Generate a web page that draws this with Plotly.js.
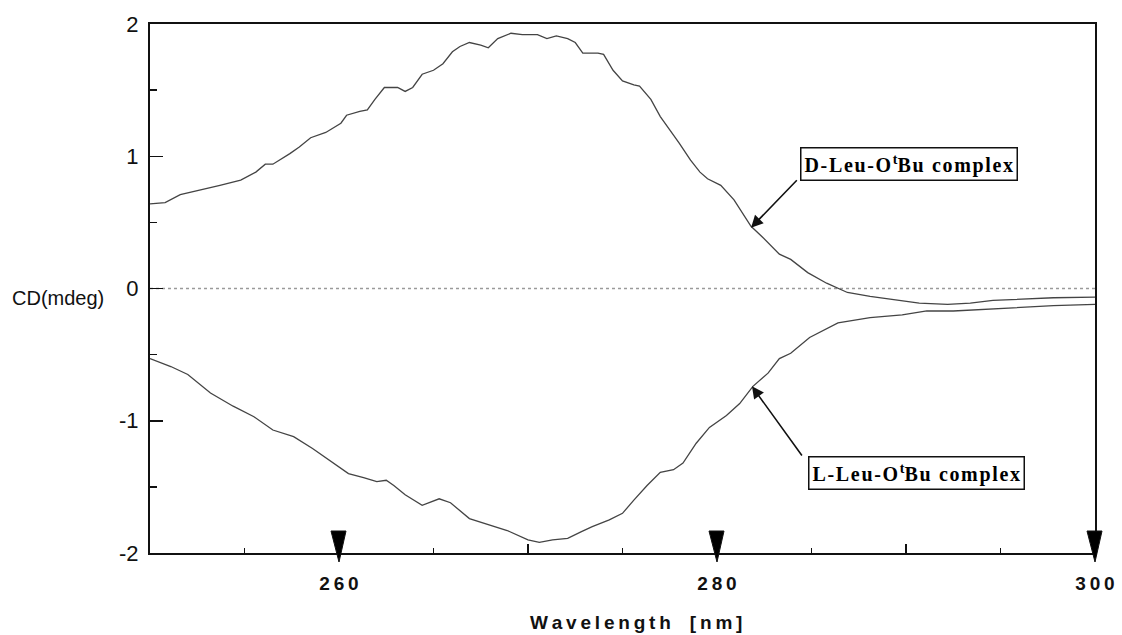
<!DOCTYPE html>
<html>
<head>
<meta charset="utf-8">
<script src="https://cdn.plot.ly/plotly-3.0.1.min.js"></script>
<style>
  html, body { margin: 0; padding: 0; background: #ffffff; }
  #chart { width: 1122px; height: 635px; }
</style>
</head>
<body>
<div id="chart"></div>
<script>
// CD spectra of the two leucine tert-butyl ester complexes
const dWavelength = [250.0, 250.8, 251.6, 252.7, 253.7, 254.8, 255.6, 256.1, 256.5, 257.4, 257.9, 258.5, 259.3, 260.1, 260.4, 261.1, 261.5, 261.9, 262.4, 263.1, 263.5, 263.9, 264.4, 265.0, 265.5, 266.0, 266.4, 266.9, 267.5, 267.9, 268.4, 269.1, 269.7, 270.5, 271.0, 271.5, 272.1, 272.5, 272.9, 273.7, 274.0, 274.5, 275.0, 275.6, 275.9, 276.5, 277.0, 277.5, 278.0, 278.6, 279.1, 279.5, 280.2, 280.9, 281.8, 282.4, 283.3, 283.9, 284.8, 285.8, 286.9, 288.1, 289.5, 290.7, 292.2, 293.4, 294.6, 296.0, 297.8, 300.0];
const dCD = [0.64, 0.65, 0.71, 0.745, 0.78, 0.82, 0.88, 0.94, 0.94, 1.02, 1.07, 1.14, 1.18, 1.25, 1.31, 1.34, 1.35, 1.43, 1.52, 1.52, 1.49, 1.52, 1.62, 1.65, 1.70, 1.79, 1.83, 1.86, 1.84, 1.82, 1.89, 1.93, 1.92, 1.92, 1.89, 1.91, 1.89, 1.86, 1.78, 1.78, 1.77, 1.65, 1.57, 1.54, 1.53, 1.43, 1.30, 1.20, 1.10, 0.97, 0.88, 0.83, 0.78, 0.67, 0.47, 0.39, 0.26, 0.22, 0.12, 0.04, -0.03, -0.06, -0.09, -0.11, -0.12, -0.11, -0.09, -0.08, -0.07, -0.065];

const lWavelength = [250.0, 251.1, 252.0, 253.2, 254.4, 255.5, 256.5, 257.6, 258.6, 259.5, 260.5, 261.3, 262.0, 262.5, 262.9, 263.5, 264.4, 265.3, 265.9, 266.9, 268.0, 268.9, 270.0, 270.6, 271.3, 272.1, 272.8, 273.4, 274.3, 275.0, 275.6, 276.3, 277.0, 277.7, 278.2, 278.9, 279.6, 280.5, 281.2, 281.9, 282.7, 283.3, 283.9, 284.9, 286.4, 288.1, 289.8, 291.1, 292.5, 294.3, 296.0, 297.8, 300.0];
const lCD = [-0.53, -0.59, -0.65, -0.79, -0.89, -0.97, -1.07, -1.12, -1.21, -1.30, -1.40, -1.43, -1.46, -1.45, -1.49, -1.56, -1.64, -1.59, -1.62, -1.74, -1.79, -1.83, -1.90, -1.92, -1.90, -1.89, -1.84, -1.80, -1.75, -1.70, -1.60, -1.49, -1.39, -1.37, -1.32, -1.17, -1.05, -0.96, -0.87, -0.74, -0.64, -0.53, -0.49, -0.37, -0.26, -0.22, -0.20, -0.17, -0.17, -0.155, -0.14, -0.13, -0.12];

// axis scale and labels
const xRange = [250, 300];
const yRange = [-2, 2];
const yTickVals = [2, 1, 0, -1, -2];
const yTickText = ['2', '1', '0', '-1', '-2'];
const xTickVals = [260, 270, 280, 290, 300];
const xTickText = ['260', '', '280', '', '300'];
const markerWavelengths = [260, 280, 300];

const spaced = s => s.split('').join('\u2009');
const loose = s => s.split('').join('\u200A');
const xFrac = w => (w - xRange[0]) / (xRange[1] - xRange[0]);
const complexLabel = prefix => loose(prefix + '-Leu-O') + '\u200A<sup>t</sup>' + loose('Bu complex');

const lineStyle = { color: '#444444', width: 1.3 };

const traces = [
  { x: dWavelength, y: dCD, mode: 'lines', line: lineStyle, name: 'D-Leu-OtBu complex', hoverinfo: 'x+y' },
  { x: lWavelength, y: lCD, mode: 'lines', line: lineStyle, name: 'L-Leu-OtBu complex', hoverinfo: 'x+y' }
];

// downward wavelength markers sitting on the bottom axis
const markerShapes = markerWavelengths.map(w => ({
  type: 'path', xref: 'paper', yref: 'paper',
  xsizemode: 'pixel', ysizemode: 'pixel',
  xanchor: xFrac(w), yanchor: 0,
  path: 'M -8,22 L 7,22 L 0,-9 Z',
  fillcolor: '#000000', line: { color: '#111111', width: 1 }
}));

const zeroShape = {
  type: 'line', xref: 'paper', yref: 'y', x0: 0, x1: 1, y0: 0, y1: 0,
  line: { color: '#9a9a9a', width: 1.5, dash: 'dot' }, layer: 'below'
};

const labelFont = { family: 'Liberation Serif, Times New Roman, serif', size: 20, color: '#000', weight: 'bold' };
const sansFont = 'Liberation Sans, Arial, sans-serif';

const layout = {
  width: 1122, height: 635,
  margin: { l: 150, r: 27, t: 24, b: 82 },
  paper_bgcolor: '#ffffff', plot_bgcolor: '#ffffff',
  showlegend: false,
  xaxis: {
    range: xRange, showgrid: false, zeroline: false,
    showline: true, mirror: true, linecolor: '#111', linewidth: 2,
    tickmode: 'array', tickvals: xTickVals, ticktext: xTickText.map(spaced),
    ticks: 'inside', ticklen: 9, tickwidth: 1.5, tickcolor: '#111',
    ticklabelstandoff: 12,
    tickfont: { family: sansFont, size: 19, color: '#111', weight: 'bold' },
    minor: { dtick: 5, ticks: 'inside', ticklen: 5, tickwidth: 1.5, tickcolor: '#111' }
  },
  yaxis: {
    range: yRange, showgrid: false, zeroline: false,
    showline: true, mirror: true, linecolor: '#111', linewidth: 2,
    tickmode: 'array', tickvals: yTickVals, ticktext: yTickText,
    ticks: 'inside', ticklen: 13, tickwidth: 1.5, tickcolor: '#111',
    ticklabelstandoff: 5,
    tickfont: { family: sansFont, size: 22, color: '#111' },
    minor: { dtick: 0.5, ticks: 'inside', ticklen: 7, tickwidth: 1.5, tickcolor: '#111' }
  },
  shapes: [zeroShape].concat(markerShapes),
  annotations: [
    {
      xref: 'paper', yref: 'paper', x: -0.148, y: 0.482, xanchor: 'left', yanchor: 'middle',
      text: 'CD(mdeg)', showarrow: false,
      font: { family: sansFont, size: 20, color: '#111' }
    },
    {
      xref: 'paper', yref: 'paper', x: 0.514, y: -0.131, xanchor: 'center', yanchor: 'middle',
      text: spaced('Wavelength') + '\u2003' + spaced('[nm]'), showarrow: false,
      font: { family: sansFont, size: 19, color: '#111', weight: 'bold' }
    },
    // D complex label and pointer
    {
      xref: 'paper', yref: 'paper', x: 0.803, y: 0.736, xanchor: 'center', yanchor: 'middle',
      text: complexLabel('D'), showarrow: false,
      font: labelFont, bordercolor: '#111', borderwidth: 1.5, borderpad: 3, bgcolor: '#ffffff'
    },
    {
      xref: 'x', yref: 'y', axref: 'x', ayref: 'y',
      x: 281.8, y: 0.46, ax: 284.3, ay: 0.83, text: '',
      showarrow: true, arrowhead: 2, arrowsize: 1.5, arrowwidth: 1.6, arrowcolor: '#111'
    },
    // L complex label and pointer
    {
      xref: 'paper', yref: 'paper', x: 0.8106, y: 0.152, xanchor: 'center', yanchor: 'middle',
      text: complexLabel('L'), showarrow: false,
      font: labelFont, bordercolor: '#111', borderwidth: 1.5, borderpad: 3, bgcolor: '#ffffff'
    },
    {
      xref: 'x', yref: 'y', axref: 'x', ayref: 'y',
      x: 281.85, y: -0.74, ax: 284.55, ay: -1.274, text: '',
      showarrow: true, arrowhead: 2, arrowsize: 1.5, arrowwidth: 1.6, arrowcolor: '#111'
    }
  ]
};

Plotly.newPlot('chart', traces, layout, { displayModeBar: false, staticPlot: true });
</script>
</body>
</html>
